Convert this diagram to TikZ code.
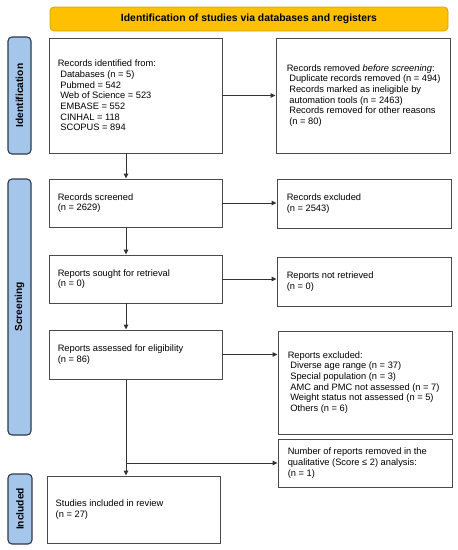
\documentclass[tikz,border=0pt]{standalone}
\usepackage{fontspec}
\setmainfont{Liberation Sans}
\usetikzlibrary{arrows.meta}
\definecolor{hdrfill}{HTML}{FFC000}
\definecolor{hdrline}{HTML}{D8A200}
\definecolor{sidefill}{HTML}{A4C6EA}
\definecolor{sideline}{HTML}{2F3A48}
\definecolor{boxline}{HTML}{4A4A4A}
\begin{document}
\begin{tikzpicture}[x=1pt,y=-1pt,
  every node/.style={font=\fontsize{9.3}{10.7}\selectfont},
  hdrbox/.style={draw=hdrline, fill=hdrfill, rounded corners=4pt, line width=0.8pt, inner sep=0pt, font=\fontsize{10.4}{12}\selectfont\bfseries},
  sidebox/.style={draw=sideline, fill=sidefill, rounded corners=4pt, line width=1.1pt, inner sep=0pt},
  sidetext/.style={rotate=90, font=\fontsize{10.2}{12}\selectfont\bfseries},
  flowbox/.style={draw=boxline, line width=0.9pt, inner sep=0pt},
  txt/.style={align=left, inner sep=0pt, anchor=west},
  conn/.style={draw=black!80, line width=0.9pt, -{Triangle[length=5pt,width=4.5pt]}}
]
\useasboundingbox (0,0) rectangle (458,550);
\fill[white] (0,0) rectangle (458,550);

\node[hdrbox, minimum width=398pt, minimum height=24pt] (hdr) at (249,19) {Identification of studies via databases and registers};

\node[sidebox, minimum width=23pt, minimum height=117pt] (s1) at (19.5,95.5) {};
\node[sidetext] (s1t) at (s1.center) {Identification};
\node[sidebox, minimum width=23pt, minimum height=256pt] (s2) at (19.5,307) {};
\node[sidetext] (s2t) at (s2.center) {Screening};
\node[sidebox, minimum width=24pt, minimum height=70pt] (s3) at (20,509) {};
\node[sidetext] (s3t) at (s3.center) {Included};

\node[flowbox, minimum width=173pt, minimum height=115pt] (b1) at (135.5,95.5) {};
\node[txt] (b1t) at ([xshift=9pt]b1.west) {Records identified from:\\
\ Databases (n = 5)\\
\ Pubmed = 542\\
\ Web of Science = 523\\
\ EMBASE = 552\\
\ CINHAL = 118\\
\ SCOPUS = 894};

\node[flowbox, minimum width=174pt, minimum height=115pt] (b2) at (363,95.5) {};
\node[txt] (b2t) at ([xshift=11pt]b2.west) {Records removed \textit{before screening}:\\
\ Duplicate records removed (n = 494)\\
\ Records marked as ineligible by\\
\ automation tools (n = 2463)\\
\ Records removed for other reasons\\
\ (n = 80)};

\node[flowbox, minimum width=173pt, minimum height=48pt] (b3) at (135.5,203) {};
\node[txt] (b3t) at ([xshift=9pt]b3.west) {Records screened\\(n = 2629)};
\node[flowbox, minimum width=174pt, minimum height=49pt] (b4) at (364,203.5) {};
\node[txt] (b4t) at ([xshift=10pt]b4.west) {Records excluded\\(n = 2543)};

\node[flowbox, minimum width=173pt, minimum height=48pt] (b5) at (135.5,279) {};
\node[txt] (b5t) at ([xshift=9pt]b5.west) {Reports sought for retrieval\\(n = 0)};
\node[flowbox, minimum width=174pt, minimum height=49pt] (b6) at (364,281.5) {};
\node[txt] (b6t) at ([xshift=10pt]b6.west) {Reports not retrieved\\(n = 0)};

\node[flowbox, minimum width=173pt, minimum height=49pt] (b7) at (135.5,354.5) {};
\node[txt] (b7t) at ([xshift=9pt]b7.west) {Reports assessed for eligibility\\(n = 86)};
\node[flowbox, minimum width=174pt, minimum height=103pt] (b8) at (365,382.5) {};
\node[txt] (b8t) at ([xshift=10pt]b8.west) {Reports excluded:\\
\ Diverse age range (n = 37)\\
\ Special population (n = 3)\\
\ AMC and PMC not assessed (n = 7)\\
\ Weight status not assessed (n = 5)\\
\ Others (n = 6)};

\node[flowbox, minimum width=174pt, minimum height=48pt] (b9) at (365,463) {};
\node[txt] (b9t) at ([xshift=10pt]b9.west) {Number of reports removed in the\\qualitative (Score ≤ 2) analysis:\\(n = 1)};

\node[flowbox, minimum width=173pt, minimum height=67pt] (b10) at (133.5,509.5) {};
\node[txt] (b10t) at ([xshift=9pt]b10.west) {Studies included in review\\(n = 27)};

\coordinate (vx) at (126,0);

\draw[conn] (b1.east) -- (b1.east -| b2.west);
\draw[conn] (b3.east) -- (b3.east -| b4.west);
\draw[conn] (b5.east) -- (b5.east -| b6.west);
\draw[conn] (b7.east) -- (b7.east -| b8.west);

\draw[conn] (b1.south -| vx) -- (b3.north -| vx);
\draw[conn] (b3.south -| vx) -- (b5.north -| vx);
\draw[conn] (b5.south -| vx) -- (b7.north -| vx);
\draw[conn] (b7.south -| vx) -- (b10.north -| vx);
\draw[conn] (b9.west -| vx) -- (b9.west);
\end{tikzpicture}
\end{document}
